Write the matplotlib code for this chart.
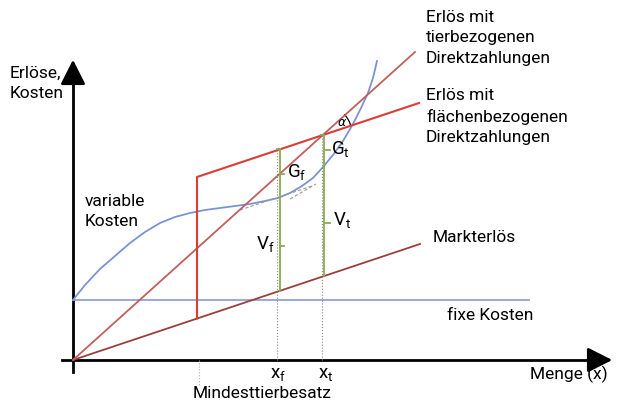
import matplotlib
matplotlib.use("Agg")
import matplotlib.pyplot as plt
from matplotlib.patches import Arc

plt.rcParams['font.family'] = ['Roboto', 'DejaVu Sans']

# schematic values (pixel units, y grows downward)
origin = (73, 360)
fix_cost_y = 300
fix_cost_end = 529
markt_end = (420, 244)
tier_end = (415, 52)
min_tier_x = 197
flaeche_start_y = 177
flaeche_end = (419, 103)
x_f = 277
x_t = 322

var_x = [73, 85, 100, 115, 130, 145, 160, 175, 190, 205, 220, 235, 250, 265,
         278, 290, 302, 313, 323, 333, 343, 353, 361, 368, 373, 377]
var_y = [300, 285, 269, 256, 243, 232, 223, 217, 213, 210, 208, 206, 204, 201,
         198, 193, 186, 178, 167, 155, 141, 124, 108, 93, 78, 61]

tangent_1 = ([240, 312], [210, 186])
tangent_2 = ([290, 316], [199, 184])

blue = '#7b93d3'
blue_fix = '#8ea3d8'
red_tier = '#c0605a'
red_flaeche = '#dd3c35'
red_markt = '#9b3f3a'
green = '#8aaa50'
fs = 12.5
ls_text = 1.45


def line_y(p0, p1, x):
    return p0[1] + (p1[1] - p0[1]) * (x - p0[0]) / (p1[0] - p0[0])


fig = plt.figure(figsize=(6.27, 4.01), dpi=100)
ax = fig.add_axes([0, 0, 1, 1])
ax.set_xlim(0, 627)
ax.set_ylim(401, 0)
ax.axis('off')

# axes with arrows
ax.plot([origin[0], origin[0]], [372, 70], color='black', lw=2)
ax.plot([62, 603], [origin[1], origin[1]], color='black', lw=2)
ax.annotate('', xy=(origin[0], 57), xytext=(origin[0], 80),
            arrowprops=dict(arrowstyle='-|>,head_length=0.75,head_width=0.38',
                            color='black', lw=2, mutation_scale=20))
ax.annotate('', xy=(615, origin[1]), xytext=(595, origin[1]),
            arrowprops=dict(arrowstyle='-|>,head_length=0.75,head_width=0.38',
                            color='black', lw=2, mutation_scale=20))

# costs
ax.plot([origin[0], fix_cost_end], [fix_cost_y, fix_cost_y], color=blue_fix, lw=1.3)
ax.plot(var_x, var_y, color=blue, lw=1.3)
ax.plot(*tangent_1, color='#999999', lw=0.8, ls=(0, (3, 2)))
ax.plot(*tangent_2, color='#999999', lw=0.8, ls=(0, (3, 2)))

# revenues
ax.plot([origin[0], markt_end[0]], [origin[1], markt_end[1]], color=red_markt, lw=1.3)
ax.plot([origin[0], tier_end[0]], [origin[1], tier_end[1]], color=red_tier, lw=1.3)
markt_at_min = line_y(origin, markt_end, min_tier_x)
ax.plot([min_tier_x, min_tier_x, flaeche_end[0]],
        [markt_at_min, flaeche_start_y, flaeche_end[1]], color=red_flaeche, lw=1.5)

# dotted guides
flaeche_start = (min_tier_x, flaeche_start_y)
ax.plot([x_f, x_f], [origin[1], line_y(flaeche_start, flaeche_end, x_f)],
        color='#888888', lw=0.8, ls=':')
ax.plot([x_t, x_t], [origin[1], line_y(flaeche_start, flaeche_end, x_t)],
        color='#888888', lw=0.8, ls=':')
ax.plot([199, 199], [origin[1], 386], color='#aaaaaa', lw=0.8, ls=':')

# green brackets
gx_f = x_f + 3
gx_t = x_t + 2
top_f = line_y(flaeche_start, flaeche_end, gx_f)
top_t = line_y(flaeche_start, flaeche_end, gx_t)
ax.plot([gx_f, gx_f], [line_y(origin, markt_end, gx_f), top_f], color=green, lw=1.3)
ax.plot([gx_t, gx_t], [line_y(origin, markt_end, gx_t), top_t], color=green, lw=1.3)
ax.plot([gx_f - 3, gx_f], [top_f, top_f], color=green, lw=1.3)
ax.plot([gx_t - 3, gx_t], [top_t, top_t], color=green, lw=1.3)
for yy in [174, 246]:
    ax.plot([gx_f, gx_f + 4], [yy, yy], color=green, lw=1.3)
for yy in [150, 223]:
    ax.plot([gx_t + 2, gx_t + 6], [yy, yy], color=green, lw=1.3)

# angle alpha
ax.add_patch(Arc((323, 134), 58, 58, theta1=-43, theta2=-18, color='black', lw=0.9))
ax.text(342, 122, r'$\alpha$', fontsize=9, ha='center', va='center')

# labels
ax.text(10, 66, 'Erlöse,\nKosten', fontsize=fs, va='top', linespacing=ls_text)
ax.text(85, 194, 'variable\nKosten', fontsize=fs, va='top', linespacing=ls_text)
ax.text(426, 10, 'Erlös mit\ntierbezogenen\nDirektzahlungen', fontsize=fs,
        va='top', linespacing=ls_text)
ax.text(426, 88, 'Erlös mit\nflächenbezogenen\nDirektzahlungen', fontsize=fs,
        va='top', linespacing=ls_text)
ax.text(433, 238, 'Markterlös', fontsize=fs, va='center')
ax.text(447, 315, 'fixe Kosten', fontsize=fs, va='center')
ax.text(530, 374, 'Menge (x)', fontsize=fs, va='center')
ax.text(193, 386, 'Mindesttierbesatz', fontsize=fs, va='top')
ax.text(270, 374, r'$\mathregular{x_f}$', fontsize=fs + 1, va='center')
ax.text(318, 374, r'$\mathregular{x_t}$', fontsize=fs + 1, va='center')
ax.text(287, 172, r'$\mathregular{G_f}$', fontsize=fs + 1, va='center')
ax.text(331, 149, r'$\mathregular{G_t}$', fontsize=fs + 1, va='center')
ax.text(256, 244, r'$\mathregular{V_f}$', fontsize=fs + 1, va='center')
ax.text(333, 220, r'$\mathregular{V_t}$', fontsize=fs + 1, va='center')

fig.savefig('out.png', dpi=100)
